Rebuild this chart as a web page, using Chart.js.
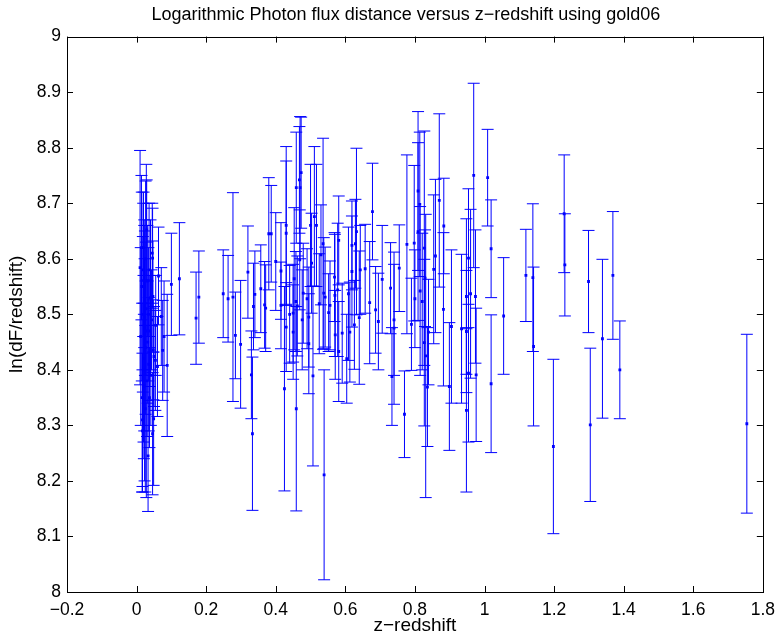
<!DOCTYPE html>
<html>
<head>
<meta charset="utf-8">
<script src="https://cdn.jsdelivr.net/npm/chart.js@4"></script>
<style>
  html, body { margin: 0; padding: 0; background: #fff; }
</style>
</head>
<body>
<canvas id="chart" width="783" height="637"></canvas>
<script>
// gold06 sample, values
const zRedshift = [
  0.010, 0.012, 0.014, 0.015, 0.016, 0.017, 0.017, 0.018, 0.019, 0.020,
  0.020, 0.021, 0.022, 0.022, 0.023, 0.024, 0.025, 0.026, 0.026, 0.027,
  0.028, 0.029, 0.030, 0.031, 0.032, 0.033, 0.034, 0.035, 0.036, 0.037,
  0.038, 0.040, 0.041, 0.043, 0.045, 0.046, 0.046, 0.047, 0.048, 0.049,
  0.050, 0.054, 0.055, 0.060, 0.063, 0.071, 0.075, 0.079, 0.088, 0.100,
  0.123, 0.171, 0.179, 0.249,
  0.263, 0.277, 0.284, 0.299, 0.320, 0.330, 0.333, 0.336, 0.340, 0.357,
  0.368, 0.371, 0.380, 0.387, 0.400, 0.415, 0.415, 0.425, 0.430, 0.430,
  0.430, 0.440, 0.450, 0.450, 0.453, 0.459, 0.459, 0.458, 0.462, 0.468,
  0.470, 0.473, 0.469, 0.476, 0.479, 0.490, 0.495, 0.495, 0.500, 0.503,
  0.507, 0.511, 0.517, 0.525, 0.530, 0.536, 0.539, 0.538, 0.542, 0.552,
  0.556, 0.569, 0.570, 0.571, 0.578, 0.581, 0.581, 0.591, 0.604, 0.609,
  0.613, 0.619, 0.619, 0.626, 0.629, 0.632, 0.640, 0.643, 0.657, 0.670,
  0.678, 0.687, 0.695, 0.706, 0.730, 0.734, 0.740, 0.740, 0.755, 0.770,
  0.777, 0.790, 0.798, 0.800, 0.809, 0.814, 0.809, 0.815, 0.821, 0.827,
  0.829, 0.827, 0.831, 0.836, 0.839, 0.854, 0.859, 0.870, 0.883, 0.882,
  0.905, 0.899, 0.934, 0.948, 0.948, 0.948, 0.954, 0.954, 0.960, 0.969,
  0.974, 0.976, 1.009, 1.019, 1.019,
  1.055, 1.119, 1.139, 1.141, 1.198, 1.229, 1.231, 1.299, 1.304, 1.339,
  1.369, 1.389, 1.754
];

const lnFlux = [
  8.584, 8.460, 8.620, 8.550, 8.350, 8.310, 8.290, 8.500, 8.580, 8.420,
  8.620, 8.370, 8.480, 8.550, 8.400, 8.520, 8.330, 8.600, 8.440, 8.510,
  8.470, 8.652, 8.380, 8.560, 8.450, 8.245, 8.500, 8.410, 8.580, 8.350,
  8.470, 8.530, 8.390, 8.490, 8.610, 8.601, 8.285, 8.532, 8.436, 8.312,
  8.424, 8.417, 8.480, 8.406, 8.569, 8.496, 8.435, 8.460, 8.408, 8.554,
  8.564, 8.493, 8.531, 8.537,
  8.528, 8.531, 8.462, 8.446, 8.576, 8.391, 8.285, 8.514, 8.536, 8.546,
  8.517, 8.511, 8.645, 8.645, 8.595, 8.578, 8.516, 8.366, 8.660, 8.646,
  8.477, 8.500, 8.502, 8.468, 8.564, 8.330, 8.728, 8.523, 8.515, 8.742,
  8.728, 8.755, 8.598, 8.490, 8.538, 8.528, 8.495, 8.447, 8.660, 8.592,
  8.389, 8.676, 8.660, 8.519, 8.607, 8.627, 8.211, 8.538, 8.531, 8.503,
  8.516, 8.567, 8.534, 8.463, 8.544, 8.633, 8.433, 8.466, 8.420, 8.537,
  8.468, 8.577, 8.624, 8.481, 8.627, 8.649, 8.494, 8.580, 8.582, 8.521,
  8.685, 8.508, 8.487, 8.563, 8.547, 8.388, 8.490, 8.475, 8.583, 8.320,
  8.626, 8.482, 8.628, 8.528, 8.722, 8.698, 8.649, 8.542, 8.523, 8.619,
  8.565, 8.449, 8.425, 8.369, 8.468, 8.581, 8.605, 8.705, 8.659, 8.509,
  8.478, 8.370, 8.474, 8.532, 8.469, 8.327, 8.601, 8.394, 8.537, 8.750,
  8.532, 8.391, 8.746, 8.618, 8.375,
  8.497, 8.570, 8.566, 8.442, 8.262, 8.681, 8.589, 8.559, 8.301, 8.456,
  8.570, 8.400, 8.303
];

const lnFluxErr = [
  0.211, 0.160, 0.130, 0.170, 0.170, 0.120, 0.110, 0.140, 0.120, 0.150,
  0.100, 0.130, 0.190, 0.110, 0.200, 0.130, 0.150, 0.140, 0.120, 0.120,
  0.300, 0.090, 0.100, 0.100, 0.110, 0.100, 0.120, 0.120, 0.120, 0.090,
  0.100, 0.140, 0.090, 0.090, 0.090, 0.090, 0.110, 0.100, 0.090, 0.120,
  0.090, 0.090, 0.090, 0.090, 0.088, 0.088, 0.090, 0.100, 0.128, 0.092,
  0.101, 0.083, 0.083, 0.079,
  0.078, 0.188, 0.078, 0.115, 0.083, 0.079, 0.138, 0.078, 0.078, 0.079,
  0.078, 0.078, 0.101, 0.087, 0.088, 0.087, 0.078, 0.184, 0.142, 0.130,
  0.080, 0.088, 0.088, 0.085, 0.128, 0.184, 0.100, 0.090, 0.090, 0.096,
  0.128, 0.100, 0.090, 0.090, 0.090, 0.090, 0.090, 0.090, 0.110, 0.090,
  0.162, 0.126, 0.110, 0.090, 0.090, 0.190, 0.189, 0.100, 0.090, 0.070,
  0.080, 0.080, 0.110, 0.080, 0.120, 0.080, 0.090, 0.090, 0.080, 0.120,
  0.090, 0.100, 0.080, 0.080, 0.080, 0.150, 0.120, 0.080, 0.080, 0.110,
  0.087, 0.078, 0.087, 0.097, 0.082, 0.088, 0.100, 0.137, 0.078, 0.078,
  0.161, 0.083, 0.140, 0.088, 0.143, 0.130, 0.160, 0.152, 0.123, 0.211,
  0.087, 0.150, 0.255, 0.107, 0.095, 0.134, 0.138, 0.156, 0.086, 0.138,
  0.138, 0.115, 0.134, 0.140, 0.110, 0.147, 0.125, 0.124, 0.152, 0.166,
  0.120, 0.120, 0.087, 0.088, 0.124,
  0.105, 0.083, 0.133, 0.143, 0.157, 0.106, 0.092, 0.092, 0.138, 0.143,
  0.115, 0.088, 0.161
];

const FONT = "'Liberation Sans', Arial, Helvetica, sans-serif";
const BLUE = '#0000ff';

function fmtTick(v) {
  return String(Math.round(v * 10) / 10).replace('-', '\u2212');
}

// vertical error bars with caps, drawn under the markers
const errorBars = {
  id: 'errorBars',
  beforeDatasetsDraw(chart) {
    const { ctx, scales: { x, y } } = chart;
    const cap = 6;
    ctx.save();
    ctx.strokeStyle = BLUE;
    ctx.lineWidth = 1;
    ctx.beginPath();
    zRedshift.forEach((z, i) => {
      // no half-pixel snapping: lets the lines antialias like the matlab export
      const px = x.getPixelForValue(z);
      const top = y.getPixelForValue(lnFlux[i] + lnFluxErr[i]);
      const bot = y.getPixelForValue(lnFlux[i] - lnFluxErr[i]);
      ctx.moveTo(px, top); ctx.lineTo(px, bot);
      ctx.moveTo(px - cap, top); ctx.lineTo(px + cap, top);
      ctx.moveTo(px - cap, bot); ctx.lineTo(px + cap, bot);
    });
    ctx.stroke();
    ctx.restore();
  }
};

// matlab-ish axes box with inward ticks on all four sides
const boxTicks = {
  id: 'boxTicks',
  afterLayout(chart) {
    // matlab centres the title over the axes, not the whole figure
    const tb = chart.titleBlock;
    if (tb) { tb.left = chart.chartArea.left - 18; tb.right = chart.chartArea.right; }
  },
  afterDraw(chart) {
    const { ctx, chartArea: a, scales: { x, y } } = chart;
    const len = 6;
    ctx.save();
    ctx.strokeStyle = '#000';
    ctx.lineWidth = 1;
    ctx.beginPath();
    x.ticks.forEach((t) => {
      const px = Math.round(x.getPixelForValue(t.value)) + 0.5;
      ctx.moveTo(px, a.bottom); ctx.lineTo(px, a.bottom - len);
      ctx.moveTo(px, a.top); ctx.lineTo(px, a.top + len);
    });
    y.ticks.forEach((t) => {
      const py = Math.round(y.getPixelForValue(t.value)) + 0.5;
      ctx.moveTo(a.left, py); ctx.lineTo(a.left + len, py);
      ctx.moveTo(a.right, py); ctx.lineTo(a.right - len, py);
    });
    ctx.stroke();
    ctx.strokeRect(Math.round(a.left) + 0.5, Math.round(a.top) + 0.5,
      Math.round(a.right - a.left), Math.round(a.bottom - a.top));
    ctx.restore();
  }
};

new Chart(document.getElementById('chart'), {
  type: 'scatter',
  data: {
    datasets: [{
      data: zRedshift.map((z, i) => ({ x: z, y: lnFlux[i] })),
      backgroundColor: BLUE,
      borderWidth: 0,
      pointStyle: 'rect',
      pointRadius: 2,
      pointHoverRadius: 2
    }]
  },
  options: {
    responsive: false,
    animation: false,
    events: [],
    layout: { padding: { left: 0, right: 11.6, top: 0, bottom: 0 } },
    scales: {
      x: {
        type: 'linear',
        min: -0.2, max: 1.8,
        afterFit: (s) => { s.height = 45; },
        grid: { display: false, drawTicks: false },
        border: { display: false },
        ticks: { stepSize: 0.2, padding: 8, color: '#000', font: { family: FONT, size: 17.5 }, callback: fmtTick },
        title: { display: true, text: 'z\u2212redshift', color: '#000', font: { family: FONT, size: 19 }, padding: { top: 0, bottom: 0 } }
      },
      y: {
        type: 'linear',
        min: 8, max: 9,
        afterFit: (s) => { s.width = 67; },
        grid: { display: false, drawTicks: false },
        border: { display: false },
        ticks: { stepSize: 0.1, padding: 6, color: '#000', font: { family: FONT, size: 17.5 }, callback: fmtTick },
        title: { display: true, text: 'ln(dF/redshift)', color: '#000', font: { family: FONT, size: 19 }, padding: { top: 5, bottom: 0 } }
      }
    },
    plugins: {
      legend: { display: false },
      tooltip: { enabled: false },
      title: {
        display: true,
        text: 'Logarithmic Photon flux distance versus z\u2212redshift using gold06',
        color: '#000',
        font: { family: FONT, size: 18, weight: 'normal' },
        padding: { top: 4, bottom: 11 }
      }
    }
  },
  plugins: [errorBars, boxTicks]
});
</script>
</body>
</html>
